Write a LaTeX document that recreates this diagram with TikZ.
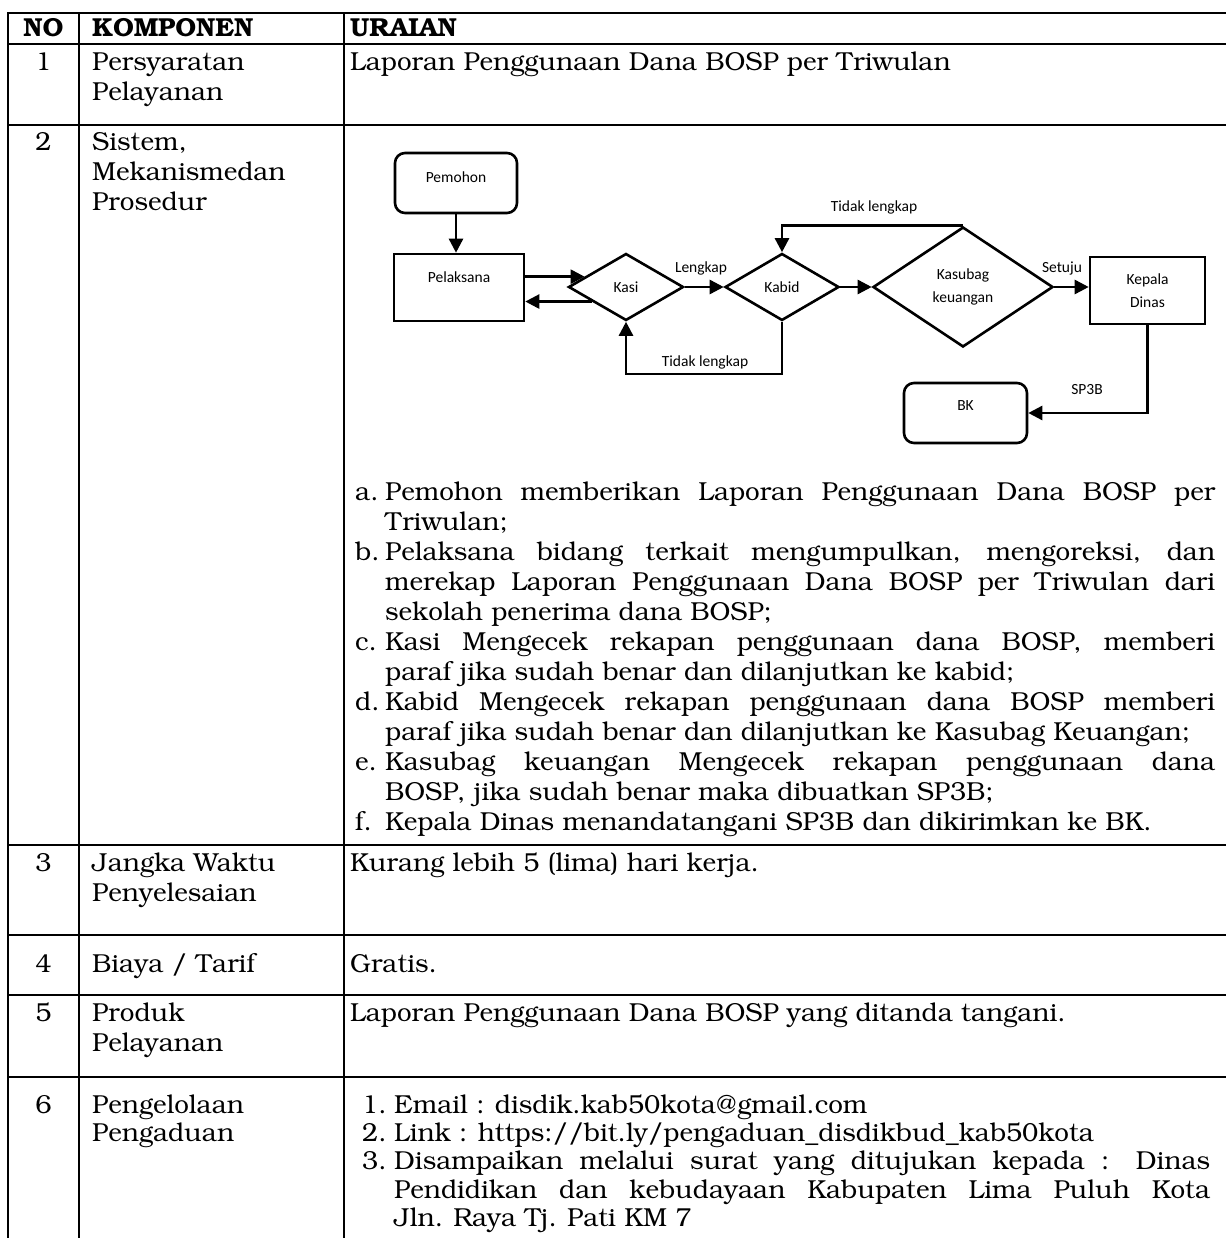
\documentclass[tikz,border=0pt]{standalone}
\usepackage{fontspec}
\newfontfamily\flowfont{Carlito}
\usepackage[T1]{fontenc}
\usepackage{bookman}
\usetikzlibrary{shapes.geometric,arrows.meta,calc}
\begin{document}
\begin{tikzpicture}[x=1pt,y=-1pt,
  tline/.style={line width=2.2pt, line cap=rect},
  txt/.style={font=\fontsize{26}{30}\selectfont, inner sep=0pt, anchor=base west},
  num/.style={font=\fontsize{26}{30}\selectfont, inner sep=0pt, anchor=base},
  hdr/.style={font=\fontsize{26}{30}\selectfont\bfseries, inner sep=0pt},
  para/.style={font=\fontsize{26}{30}\selectfont, inner sep=0pt, anchor=north west, text width=860pt, align=justify},
  fl/.style={font=\flowfont\fontsize{15.5}{23}\selectfont, inner sep=0pt},
  fbox/.style={draw, line width=2.6pt, inner sep=0pt},
  dia/.style={draw, diamond, line width=2.6pt, inner sep=0pt, fl},
  arr/.style={line width=2.6pt, -{Triangle[length=14pt,width=14pt]}}
]
\useasboundingbox (0,0) rectangle (1225,1238);
\fill[white] (0,0) rectangle (1225,1238);

% ---------- table rules ----------
\draw[tline] (8,13) -- (1226,13);
\draw[tline] (8,13) -- (8,1240);
\draw[tline] (79,13) -- (79,1240);
\draw[tline] (344,13) -- (344,1240);
\foreach \yy in {44,125,845,935,995,1077}
  \draw[tline] (8,\yy) -- (1226,\yy);

% ---------- header ----------
\node[hdr, anchor=base] (hno) at (43.5,37) {NO};
\node[hdr, anchor=base west] (hkomp) at (92,37) {KOMPONEN};
\node[hdr, anchor=base west] (hura) at (350,37) {URAIAN};

% ---------- row 1 ----------
\node[num] (n1) at (43.5,71) {1};
\node[txt] (k1a) at (92,71) {Persyaratan};
\node[txt] (k1b) at (92,101) {Pelayanan};
\node[txt] (u1) at (350,71) {Laporan Penggunaan Dana BOSP per Triwulan};

% ---------- row 2 ----------
\node[num] (n2) at (43.5,151) {2};
\node[txt] (k2a) at (92,151) {Sistem,};
\node[txt] (k2b) at (92,181) {Mekanismedan};
\node[txt] (k2c) at (92,211) {Prosedur};

% flowchart
\node[fbox, rounded corners=10pt, minimum width=122pt, minimum height=60pt] (pem) at (456,183) {};
\node[fl] (pemt) at ($(pem)+(0,-6)$) {Pemohon};
\node[fbox, minimum width=130pt, minimum height=67pt] (pel) at (459,287.5) {};
\node[fl] (pelt) at ($(pel)+(0,-10.5)$) {Pelaksana};
\node[dia, minimum width=115pt, minimum height=67pt, aspect=1.72] (kasi) at (626,287) {Kasi};
\node[dia, minimum width=114pt, minimum height=67pt, aspect=1.7] (kabid) at (782,287) {Kabid};
\node[dia, minimum width=180pt, minimum height=120pt, aspect=1.5, align=center] (kasub) at (963,287) {Kasubag\\keuangan};
\node[fbox, fl, minimum width=115pt, minimum height=67pt, align=center] (kep) at (1147.5,290.5) {Kepala\\Dinas};
\node[fbox, rounded corners=10pt, minimum width=123pt, minimum height=60pt] (bk) at (965.5,413) {};
\node[fl] (bkt) at ($(bk)+(0,-7)$) {BK};

\draw[arr] (pem.south) -- (pem.south |- pel.north);
\draw[arr] (kasi.166 -| pel.east) -- (kasi.166);
\draw[arr] (kasi.203) -- (kasi.203 -| pel.east);
\draw[arr] (kasi.east) -- (kabid.west);
\draw[arr] (kabid.east) -- (kasub.west);
\draw[arr] (kasub.east) -- (kasub.east -| kep.west);
\draw[arr] (kasub.north) -| (kabid.north);
\coordinate (lb) at ($(kabid.south)+(0,52)$);
\draw[arr] (kabid.south) -- (lb) -| (kasi.south);
\draw[arr] (kep.south) |- (bk.east);

\node[fl] (llengkap) at (701,268) {Lengkap};
\node[fl] (ltl1) at (705,362) {Tidak lengkap};
\node[fl] (ltl2) at (874,207) {Tidak lengkap};
\node[fl] (lsetuju) at (1062,268) {Setuju};
\node[fl] (lsp3b) at (1087,390) {SP3B};

% steps a-f
\node[para] (steps) at (355,479) {\hyphenpenalty=10000\tolerance=9999\relax
\hangindent=30pt\hangafter=1\noindent\strut\makebox[30pt][l]{a.}Pemohon memberikan Laporan Penggunaan Dana BOSP per\linebreak Triwulan;\par
\hangindent=30pt\hangafter=1\noindent\strut\makebox[30pt][l]{b.}Pelaksana bidang terkait mengumpulkan, mengoreksi, dan\linebreak merekap Laporan Penggunaan Dana BOSP per Triwulan dari\linebreak sekolah penerima dana BOSP;\par
\hangindent=30pt\hangafter=1\noindent\strut\makebox[30pt][l]{c.}Kasi Mengecek rekapan penggunaan dana BOSP, memberi\linebreak paraf jika sudah benar dan dilanjutkan ke kabid;\par
\hangindent=30pt\hangafter=1\noindent\strut\makebox[30pt][l]{d.}Kabid Mengecek rekapan penggunaan dana BOSP memberi\linebreak paraf jika sudah benar dan dilanjutkan ke Kasubag Keuangan;\par
\hangindent=30pt\hangafter=1\noindent\strut\makebox[30pt][l]{e.}Kasubag keuangan Mengecek rekapan penggunaan dana\linebreak BOSP, jika sudah benar maka dibuatkan SP3B;\par
\hangindent=30pt\hangafter=1\noindent\strut\makebox[30pt][l]{f.}Kepala Dinas menandatangani SP3B dan dikirimkan ke BK.\par};

% ---------- row 3 ----------
\node[num] (n3) at (43.5,871) {3};
\node[txt] (k3a) at (92,871) {Jangka Waktu};
\node[txt] (k3b) at (92,901) {Penyelesaian};
\node[txt] (u3) at (350,871) {Kurang lebih 5 (lima) hari kerja.};

% ---------- row 4 ----------
\node[num] (n4) at (43.5,972) {4};
\node[txt] (k4a) at (92,972) {Biaya / Tarif};
\node[txt] (u4) at (350,972) {Gratis.};

% ---------- row 5 ----------
\node[num] (n5) at (43.5,1021) {5};
\node[txt] (k5a) at (92,1021) {Produk};
\node[txt] (k5b) at (92,1051) {Pelayanan};
\node[txt] (u5) at (350,1021) {Laporan Penggunaan Dana BOSP yang ditanda tangani.};

% ---------- row 6 ----------
\node[num] (n6) at (43.5,1113) {6};
\node[txt] (k6a) at (92,1113) {Pengelolaan};
\node[txt] (k6b) at (92,1141.3) {Pengaduan};
\node[para, font=\fontsize{26}{28.3}\selectfont] (compl) at (350,1093.2) {\hyphenpenalty=10000\tolerance=9999\relax
\hangindent=44pt\hangafter=1\noindent\strut\hspace*{12pt}\makebox[32pt][l]{1.}Email : disdik.kab50kota@gmail.com\par
\hangindent=44pt\hangafter=1\noindent\strut\hspace*{12pt}\makebox[32pt][l]{2.}Link : https://bit.ly/pengaduan\_disdikbud\_kab50kota\par
\hangindent=44pt\hangafter=1\noindent\strut\hspace*{12pt}\makebox[32pt][l]{3.}Disampaikan melalui surat yang ditujukan kepada : Dinas\linebreak Pendidikan dan kebudayaan Kabupaten Lima Puluh Kota\linebreak Jln. Raya Tj. Pati KM 7\par};
\end{tikzpicture}
\end{document}
